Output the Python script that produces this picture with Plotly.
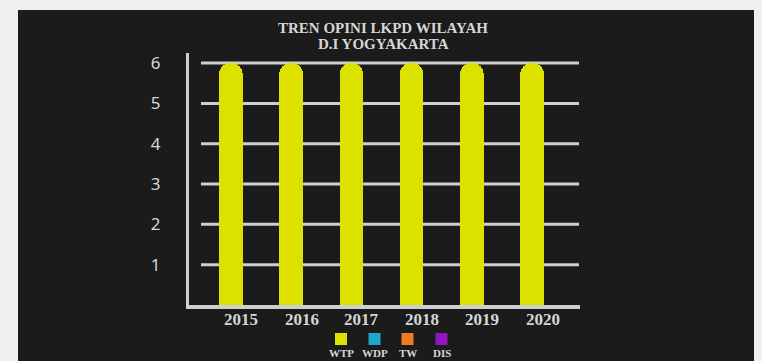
import plotly.graph_objects as go

# ---- data ----
years = ["2015", "2016", "2017", "2018", "2019", "2020"]
wtp = [6, 6, 6, 6, 6, 6]
wdp = [0, 0, 0, 0, 0, 0]
tw = [0, 0, 0, 0, 0, 0]
dis = [0, 0, 0, 0, 0, 0]
y_ticks = [1, 2, 3, 4, 5, 6]
title_lines = ["TREN OPINI LKPD WILAYAH", "D.I YOGYAKARTA"]
legend_names = ["WTP", "WDP", "TW", "DIS"]
legend_colors = ["#dce100", "#1fa6cf", "#f07a22", "#9414c4"]

W, H = 762, 361
L, R, T, B = 189, 580, 53, 305  # plot area pixel bounds
pw, ph = R - L, B - T

def px(x):
    return (x - L) / pw

def py(y):
    return (B - y) / ph

GRID = "#cfcfcf"
TXT = "#d6d6d6"
PANEL = "#1b1b1b"

fig = go.Figure()
for name, vals, col in zip(legend_names, [wtp, wdp, tw, dis], legend_colors):
    fig.add_trace(go.Bar(
        x=years, y=vals, name=name,
        marker=dict(color=col, line=dict(width=0), cornerradius="50%"),
        width=0.39, offset=-0.37, showlegend=False,
    ))

shapes = [
    dict(type="rect", xref="paper", yref="paper",
         x0=px(18), x1=px(754), y0=py(370), y1=py(10),
         fillcolor=PANEL, line=dict(width=0), layer="below"),
]
for v in y_ticks:
    shapes.append(dict(type="line", xref="paper", yref="y",
                       x0=px(201), x1=px(579), y0=v, y1=v,
                       line=dict(color=GRID, width=3), layer="below"))

annotations = []
for line, yc in zip(title_lines, [28, 44]):
    annotations.append(dict(xref="paper", yref="paper", x=px(383), y=py(yc),
                            text=line, showarrow=False, xanchor="center", yanchor="middle",
                            font=dict(family="Liberation Serif", size=15, color=TXT, weight="bold")))

for i, yr in enumerate(years):
    annotations.append(dict(xref="x", yref="paper", x=i, y=py(319.5),
                            text=yr, showarrow=False, xanchor="center", yanchor="middle",
                            font=dict(family="Liberation Serif", size=17, color=TXT, weight="bold")))

centers = [341, 374.5, 407.5, 441.5]
for name, col, cx in zip(legend_names, legend_colors, centers):
    shapes.append(dict(type="rect", xref="paper", yref="paper",
                       x0=px(cx - 6), x1=px(cx + 6), y0=py(345), y1=py(333),
                       fillcolor=col, line=dict(width=0)))
    annotations.append(dict(xref="paper", yref="paper", x=px(cx), y=py(353),
                            text=name, showarrow=False, xanchor="center", yanchor="middle",
                            font=dict(family="Liberation Serif", size=11, color=TXT, weight="bold")))

fig.update_layout(
    width=W, height=H,
    margin=dict(l=L, r=W - R, t=T, b=H - B, pad=0),
    paper_bgcolor="#efefef",
    plot_bgcolor="rgba(0,0,0,0)",
    barmode="stack",
    xaxis=dict(type="category", range=[-0.87, 5.62], showgrid=False, zeroline=False,
               showline=True, linecolor=GRID, linewidth=4,
               ticks="", showticklabels=False),
    yaxis=dict(range=[0, 6.25], showgrid=False, zeroline=False,
               showline=True, linecolor=GRID, linewidth=3,
               tickvals=y_ticks, ticks="", ticklabelstandoff=22,
               tickfont=dict(family="Noto Sans", size=17, color=TXT)),
    shapes=shapes,
    annotations=annotations,
)

fig.write_html("out.html")
